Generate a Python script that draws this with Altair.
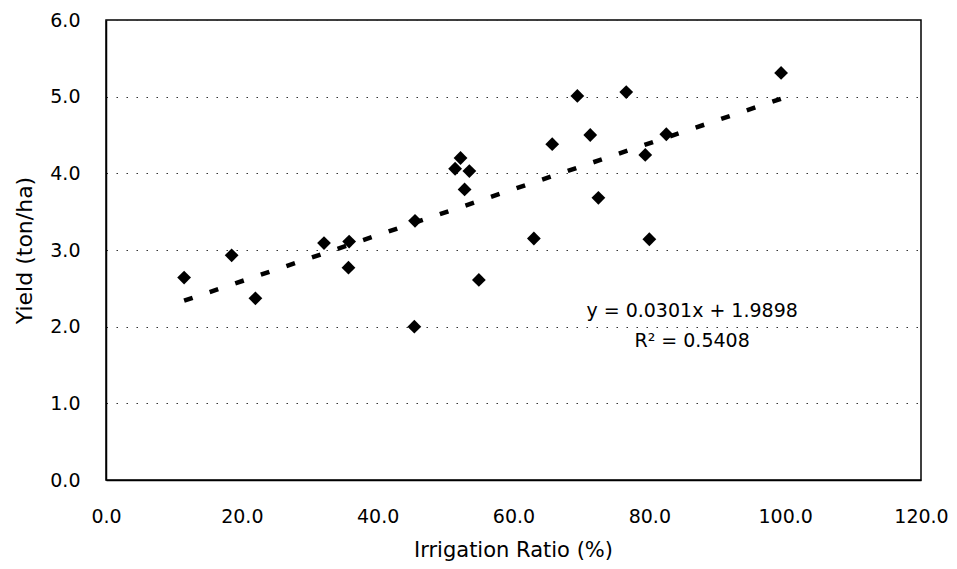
import altair as alt
import pandas as pd

ratio = [11.5, 18.5, 22.0, 32.1, 35.8, 35.7, 45.5, 45.4, 51.4, 52.2, 52.8, 53.5,
         54.9, 63.0, 65.7, 69.4, 71.3, 72.5, 76.6, 79.4, 80.0, 82.5, 99.4]
yield_ = [2.64, 2.93, 2.37, 3.09, 3.11, 2.77, 3.38, 2.00, 4.06, 4.20, 3.79, 4.03,
          2.61, 3.15, 4.38, 5.01, 4.50, 3.68, 5.06, 4.24, 3.14, 4.51, 5.31]

ann_text = ["y = 0.0301x + 1.9898", "R² = 0.5408"]
ann_x = [86.3, 86.3]
ann_y = [2.20, 1.81]

df = pd.DataFrame({"x": ratio, "y": yield_})
ann = pd.DataFrame({"t": ann_text, "x": ann_x, "y": ann_y})

xs = alt.Scale(domain=[0, 120], nice=False, zero=True)
ys = alt.Scale(domain=[0, 6], nice=False, zero=True)

xaxis = alt.Axis(values=[0, 20, 40, 60, 80, 100, 120], format=".1f", grid=False,
                 ticks=False, labelPadding=27, labelFlush=False, labelOverlap=False,
                 domainColor="black", domainWidth=1.5,
                 title="Irrigation Ratio (%)", titleX=407, titleY=70,
                 titleFontSize=21,
                 titleBaseline="middle", titleAnchor="middle")
yaxis = alt.Axis(values=[0, 1, 2, 3, 4, 5, 6], format=".1f", grid=True,
                 gridDash=[1.5, 8.5], gridColor="#333", gridWidth=1.2,
                 ticks=False, labelPadding=26, labelFlush=False, labelOverlap=False,
                 domainColor="black", domainWidth=1.5,
                 title="Yield (ton/ha)", titleX=-82, titleY=230, titleAngle=-90,
                 titleFontSize=22,
                 titleBaseline="middle", titleAnchor="middle")

pts = alt.Chart(df).mark_point(shape="diamond", filled=True, color="black",
                               size=190, opacity=1).encode(
    x=alt.X("x:Q", scale=xs, axis=xaxis),
    y=alt.Y("y:Q", scale=ys, axis=yaxis),
)

trend = alt.Chart(df).transform_regression("x", "y").mark_line(
    color="black", strokeWidth=4.5, strokeDash=[9, 18], strokeCap="butt").encode(
    x=alt.X("x:Q", scale=xs),
    y=alt.Y("y:Q", scale=ys),
)

txt = alt.Chart(ann).mark_text(font="DejaVu Sans", fontSize=19, color="black",
                               align="center", baseline="middle").encode(
    x=alt.X("x:Q", scale=xs),
    y=alt.Y("y:Q", scale=ys),
    text="t:N",
)

chart = (trend + pts + txt).properties(
    width=815, height=460,
    background="white",
    autosize=alt.AutoSizeParams(type="none"),
    padding={"left": 98, "top": 12, "right": 28, "bottom": 85},
).configure_view(stroke="black", strokeWidth=1.5).configure_axis(
    labelFont="DejaVu Sans", labelFontSize=19, labelColor="black",
    titleFont="DejaVu Sans", titleFontWeight="normal",
    titleColor="black",
)

chart.save("out.html", embed_options={"renderer": "svg", "actions": False})
